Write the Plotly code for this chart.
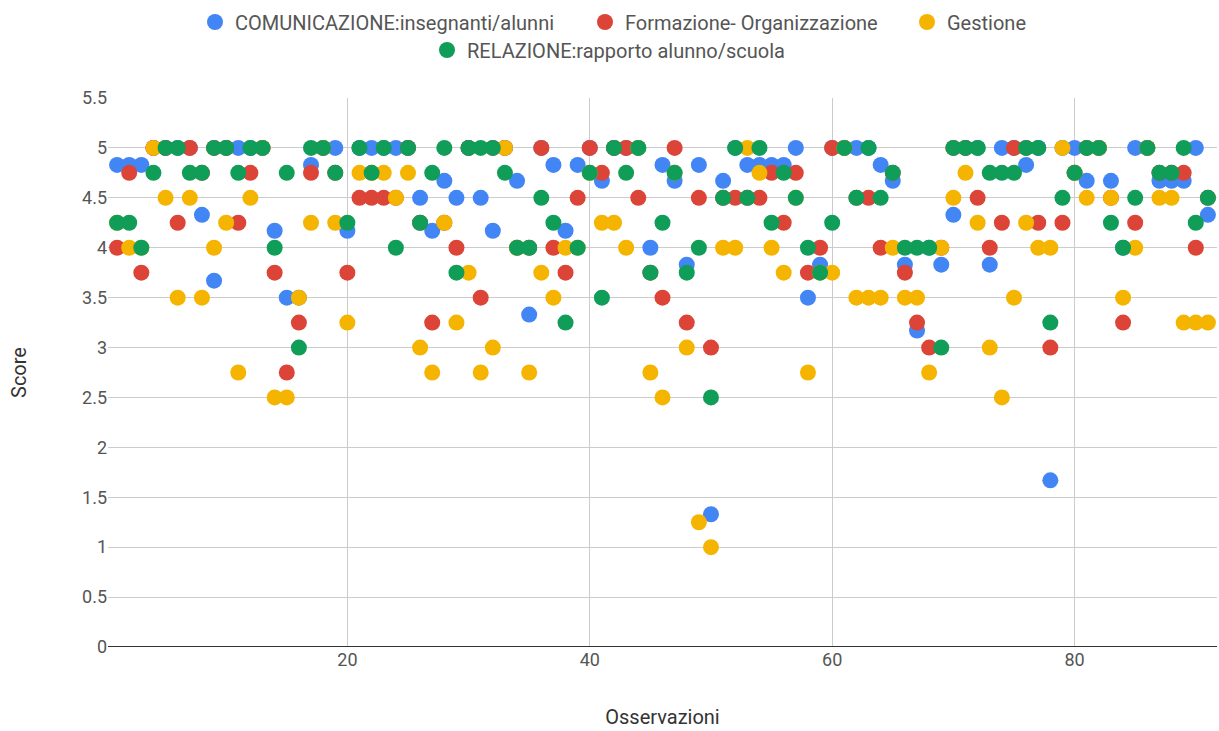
import plotly.graph_objects as go

osservazioni = list(range(1, 92))

comunicazione = [4.83, 4.83, 4.83, 5, 5, 5, 5, 4.33, 3.67, 5,
                 5, 5, 5, 4.17, 3.5, 3.5, 4.83, 5, 5, 4.17,
                 5, 5, 5, 5, 5, 4.5, 4.17, 4.67, 4.5, 5,
                 4.5, 4.17, 5, 4.67, 3.33, 5, 4.83, 4.17, 4.83, 5,
                 4.67, 5, 5, 5, 4.0, 4.83, 4.67, 3.83, 4.83, 1.33,
                 4.67, 5, 4.83, 4.83, 4.83, 4.83, 5, 3.5, 3.83, 5,
                 5, 5, 5, 4.83, 4.67, 3.83, 3.17, 4.0, 3.83, 4.33,
                 5, 5, 3.83, 5, 5, 4.83, 5, 1.67, 5, 5,
                 4.67, 5, 4.67, 4.0, 5, 5, 4.67, 4.67, 4.67, 5,
                 4.33]

formazione = [4.0, 4.75, 3.75, 5, 5, 4.25, 5, 4.75, 5, 5,
              4.25, 4.75, 5, 3.75, 2.75, 3.25, 4.75, 5, 4.75, 3.75,
              4.5, 4.5, 4.5, 4.5, 5, 4.25, 3.25, 4.25, 4.0, 5,
              3.5, 5, 5, 4.0, 4.0, 5, 4.0, 3.75, 4.5, 5,
              4.75, 5, 5, 4.5, 3.75, 3.5, 5, 3.25, 4.5, 3.0,
              4.5, 4.5, 4.5, 4.5, 4.75, 4.25, 4.75, 3.75, 4.0, 5,
              5, 4.5, 4.5, 4.0, 4.75, 3.75, 3.25, 3.0, 4.0, 5,
              5, 4.5, 4.0, 4.25, 5, 5, 4.25, 3.0, 4.25, 4.75,
              5, 5, 4.5, 3.25, 4.25, 5, 4.75, 4.75, 4.75, 4.0,
              4.5]

gestione = [4.25, 4.0, 4.0, 5, 4.5, 3.5, 4.5, 3.5, 4.0, 4.25,
            2.75, 4.5, 5, 2.5, 2.5, 3.5, 4.25, 5, 4.25, 3.25,
            4.75, 4.75, 4.75, 4.5, 4.75, 3.0, 2.75, 4.25, 3.25, 3.75,
            2.75, 3.0, 5, 4.0, 2.75, 3.75, 3.5, 4.0, 4.0, 4.75,
            4.25, 4.25, 4.0, 5, 2.75, 2.5, 4.75, 3.0, 1.25, 1.0,
            4.0, 4.0, 5, 4.75, 4.0, 3.75, 4.5, 2.75, 3.75, 3.75,
            5, 3.5, 3.5, 3.5, 4.0, 3.5, 3.5, 2.75, 4.0, 4.5,
            4.75, 4.25, 3.0, 2.5, 3.5, 4.25, 4.0, 4.0, 5, 4.75,
            4.5, 5, 4.5, 3.5, 4.0, 5, 4.5, 4.5, 3.25, 3.25,
            3.25]

relazione = [4.25, 4.25, 4.0, 4.75, 5, 5, 4.75, 4.75, 5, 5,
             4.75, 5, 5, 4.0, 4.75, 3.0, 5, 5, 4.75, 4.25,
             5, 4.75, 5, 4.0, 5, 4.25, 4.75, 5, 3.75, 5,
             5, 5, 4.75, 4.0, 4.0, 4.5, 4.25, 3.25, 4.0, 4.75,
             3.5, 5, 4.75, 5, 3.75, 4.25, 4.75, 3.75, 4.0, 2.5,
             4.5, 5, 4.5, 5, 4.25, 4.75, 4.5, 4.0, 3.75, 4.25,
             5, 4.5, 5, 4.5, 4.75, 4.0, 4.0, 4.0, 3.0, 5,
             5, 5, 4.75, 4.75, 4.75, 5, 5, 3.25, 4.5, 4.75,
             5, 5, 4.25, 4.0, 4.5, 5, 4.75, 4.75, 5, 4.25,
             4.5]

series = [
    ("COMUNICAZIONE:insegnanti/alunni", comunicazione, "#4285F4", "legend"),
    ("Formazione- Organizzazione", formazione, "#DB4437", "legend2"),
    ("Gestione", gestione, "#F4B400", "legend3"),
    ("RELAZIONE:rapporto alunno/scuola", relazione, "#0F9D58", "legend4"),
]

x_ticks = [20, 40, 60, 80]
y_ticks = [0, 0.5, 1, 1.5, 2, 2.5, 3, 3.5, 4, 4.5, 5, 5.5]

fig = go.Figure()
for name, vals, color, leg in series:
    fig.add_trace(go.Scatter(
        x=osservazioni, y=vals, mode="markers", name=name,
        marker=dict(color=color, size=16, line=dict(width=0)),
        legend=leg,
    ))

font_family = "Roboto, Arial, sans-serif"
W, H = 1219, 731
L, R, T, B = 108, 2, 98, 84
pw, ph = W - L - R, H - T - B


def px_x(p):
    return (p - L) / pw


def px_y(p):
    return 1 + (T - p) / ph


leg_font = dict(size=20, color="#555555", family=font_family)
leg_common = dict(orientation="h", xanchor="left", yanchor="middle",
                  font=leg_font, itemsizing="trace", bgcolor="rgba(0,0,0,0)",
                  borderwidth=0)

fig.update_layout(
    width=W, height=H,
    margin=dict(l=L, r=R, t=T, b=B, autoexpand=False),
    paper_bgcolor="white", plot_bgcolor="white",
    font=dict(family=font_family, size=18, color="#222222"),
    showlegend=True,
    legend=dict(x=px_x(235 - 40), y=px_y(22), **leg_common),
    legend2=dict(x=px_x(625 - 40), y=px_y(22), **leg_common),
    legend3=dict(x=px_x(947 - 40), y=px_y(22), **leg_common),
    legend4=dict(x=px_x(467 - 40), y=px_y(50), **leg_common),
    xaxis=dict(
        range=[0.25, 91.75], tickvals=x_ticks, ticktext=[str(v) for v in x_ticks],
        showgrid=True, gridcolor="#cccccc", gridwidth=1, zeroline=False,
        showline=False, ticks="", automargin=False,
        tickfont=dict(size=18, color="#555555"),
        title=dict(text="Osservazioni", font=dict(size=20, color="#333333"), standoff=40),
    ),
    yaxis=dict(
        range=[0, 5.5], tickvals=y_ticks,
        ticktext=["0", "0.5", "1", "1.5", "2", "2.5", "3", "3.5", "4", "4.5", "5", "5.5"],
        showgrid=True, gridcolor="#cccccc", gridwidth=1, zeroline=False,
        showline=False, ticks="", automargin=False,
        tickfont=dict(size=18, color="#555555"),
        title=dict(text="Score", font=dict(size=20, color="#333333"), standoff=50),
    ),
    shapes=[dict(type="line", xref="paper", yref="y", x0=0, x1=1, y0=0, y1=0,
                 line=dict(color="#333333", width=2), layer="above")],
)

fig.write_html(
    "out.html",
    config={"displayModeBar": False},
    post_script="document.body.style.margin='0';document.body.style.overflow='hidden';",
)
